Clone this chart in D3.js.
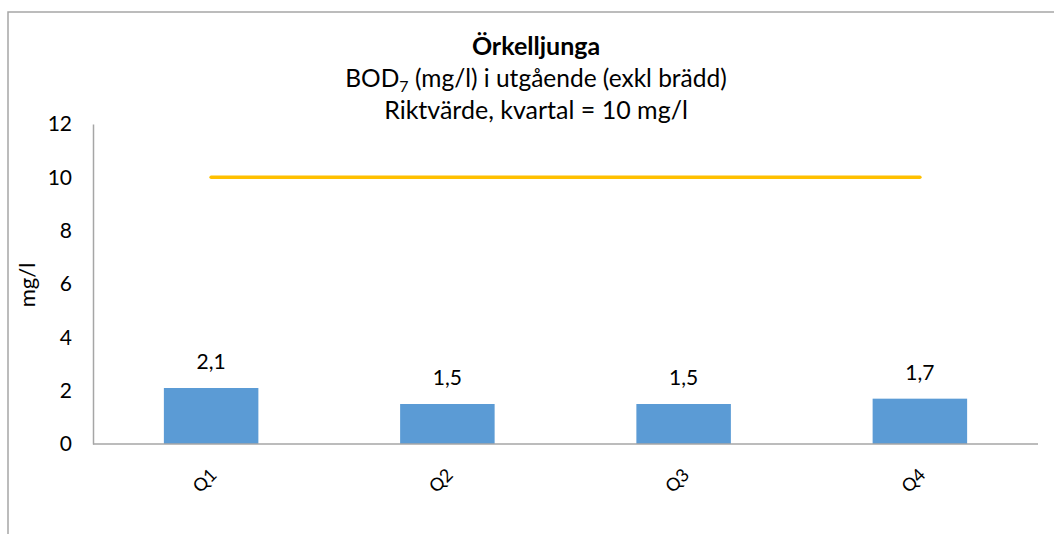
<!DOCTYPE html>
<html>
<head>
<meta charset="utf-8">
<script src="https://cdn.jsdelivr.net/npm/d3@7"></script>
<style>
  html, body { margin: 0; padding: 0; background: #fff; }
  svg { display: block; font-family: Lato, "Open Sans", sans-serif; }
</style>
</head>
<body>
<svg id="chart" width="1054" height="534"></svg>
<script>
const categories = ["Q1", "Q2", "Q3", "Q4"];
const values = [2.1, 1.5, 1.5, 1.7];
const valueLabels = ["2,1", "1,5", "1,5", "1,7"];
const guideValues = [10, 10, 10, 10];
const yTicks = [0, 2, 4, 6, 8, 10, 12];
const titleText = "Örkelljunga";
const yLabel = "mg/l";

const svg = d3.select("#chart");

// outer chart border
svg.append("rect")
  .attr("x", 8).attr("y", 12)
  .attr("width", 1080).attr("height", 560)
  .attr("fill", "none").attr("stroke", "#a6a6a6").attr("stroke-width", 1.5);

const m = { left: 93, right: 1038, top: 124, bottom: 444 };

const x = d3.scaleBand().domain(categories).range([m.left, m.right]).paddingInner(0.6).paddingOuter(0.3);
const y = d3.scaleLinear().domain([0, 12]).range([m.bottom, m.top]);

// Bars
svg.selectAll("rect.bar").data(values).join("rect")
  .attr("class", "bar")
  .attr("x", (d, i) => x(categories[i]))
  .attr("y", d => y(d))
  .attr("width", x.bandwidth())
  .attr("height", d => y(0) - y(d))
  .attr("fill", "#5b9bd5");

// Guide line
const line = d3.line()
  .x((d, i) => x(categories[i]) + x.bandwidth() / 2)
  .y(d => y(d));
svg.append("path").datum(guideValues)
  .attr("d", line)
  .attr("fill", "none")
  .attr("stroke", "#ffc000")
  .attr("stroke-width", 3.5)
  .attr("stroke-linecap", "round");

// Y axis
const yAxis = d3.axisLeft(y).tickValues(yTicks).tickSize(0).tickPadding(21).tickFormat(d3.format("d"));
const gy = svg.append("g").attr("transform", `translate(${m.left},0)`).call(yAxis);
gy.select(".domain").attr("stroke", "#a6a6a6").attr("stroke-width", 1.5);
gy.selectAll("text").attr("font-size", 21).attr("fill", "#000").attr("font-family", "Lato, sans-serif");

// X axis
const xAxis = d3.axisBottom(x).tickSize(0).tickPadding(0);
const gx = svg.append("g").attr("transform", `translate(0,${m.bottom})`).call(xAxis);
gx.select(".domain").attr("stroke", "#a6a6a6").attr("stroke-width", 1.5).attr("d", `M${m.left},0H${m.right}`);
gx.selectAll("text")
  .attr("font-size", 18).attr("fill", "#000").attr("font-family", "Lato, sans-serif")
  .attr("text-anchor", "middle")
  .attr("dy", null).attr("y", 0)
  .attr("transform", "translate(-2,41) rotate(-45)");

// Value labels
svg.selectAll("text.vl").data(values).join("text")
  .attr("class", "vl")
  .attr("x", (d, i) => x(categories[i]) + x.bandwidth() / 2)
  .attr("y", d => y(d) - 19)
  .attr("text-anchor", "middle")
  .attr("font-size", 21).attr("fill", "#000")
  .text((d, i) => valueLabels[i]);

// Y label
svg.append("text")
  .attr("transform", "translate(35,285) rotate(-90)")
  .attr("text-anchor", "middle")
  .attr("font-size", 22).attr("fill", "#000")
  .text(yLabel);

// Titles
const cx = 536;
svg.append("text").attr("x", cx).attr("y", 55).attr("text-anchor", "middle")
  .attr("font-size", 25).attr("font-weight", "bold").attr("fill", "#000").text(titleText);
const t2 = svg.append("text").attr("x", cx).attr("y", 87).attr("text-anchor", "middle")
  .attr("font-size", 24.5).attr("fill", "#000");
t2.append("tspan").text("BOD");
t2.append("tspan").attr("font-size", 16).attr("dy", 5).text("7");
t2.append("tspan").attr("dy", -5).text(" (mg/l) i utgående (exkl brädd)");
svg.append("text").attr("x", cx).attr("y", 119).attr("text-anchor", "middle")
  .attr("font-size", 25).attr("fill", "#000").text("Riktvärde, kvartal = 10 mg/l");
</script>
</body>
</html>
